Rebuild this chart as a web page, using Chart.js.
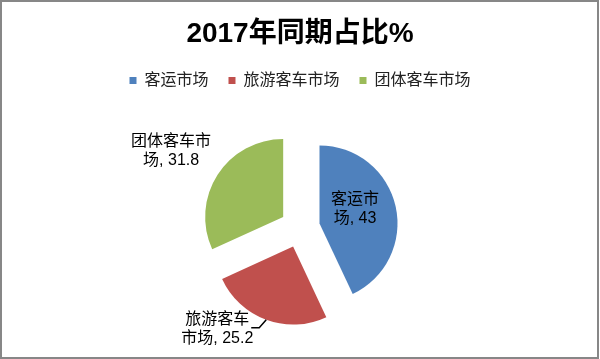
<!DOCTYPE html>
<html>
<head>
  <meta charset="utf-8" />
  <title>2017年同期占比%</title>
  <script src="https://cdn.jsdelivr.net/npm/chart.js"></script>
  <style>
    body {
      background: white;
      margin: 0;
    }
    canvas {
      display: block;
    }
  </style>
</head>
<body>

  <canvas id="shareChart" width="600" height="359"></canvas>

  <script>
    // data
    const categories = ['客运市场', '旅游客车市场', '团体客车市场'];
    const shares = [43, 25.2, 31.8];
    const chartTitle = '2017年同期占比%';

    const sliceColors = ['#4F81BD', '#C0504D', '#9BBB59'];
    const CJK = '"Liberation Sans", "Noto Sans CJK SC", sans-serif';
    const EXPLODE = 20;   // how far each slice is pulled out

    // label layout per slice: distance from centre, angle nudge (deg), where to wrap
    const labelLayout = [
      { r: 58, da: -6, wrap: 3 },
      { r: 131, da: 19, wrap: 4, leader: true },
      { r: 150, da: -2, wrap: 5 }
    ];

    // white background + grey frame like the Excel chart area
    const framePlugin = {
      id: 'frame',
      beforeDraw(chart) {
        const ctx = chart.ctx;
        ctx.save();
        ctx.fillStyle = '#fff';
        ctx.fillRect(0, 0, chart.width, chart.height);
        ctx.restore();
      },
      afterDraw(chart) {
        const ctx = chart.ctx;
        ctx.save();
        ctx.strokeStyle = '#878787';
        ctx.lineWidth = 2;
        ctx.strokeRect(1, 1, chart.width - 3, chart.height - 2);
        ctx.restore();
      }
    };

    // draw every slice pulled out along its bisector
    const explodePlugin = {
      id: 'explode',
      beforeDatasetDraw(chart, args) {
        const ctx = chart.ctx;
        args.meta.data.forEach(arc => {
          const mid = (arc.startAngle + arc.endAngle) / 2;
          ctx.save();
          ctx.translate(Math.cos(mid) * EXPLODE, Math.sin(mid) * EXPLODE);
          arc.draw(ctx);
          ctx.restore();
        });
        return false;
      }
    };

    const labelPlugin = {
      id: 'sliceLabels',
      afterDatasetsDraw(chart) {
        const ctx = chart.ctx;
        const meta = chart.getDatasetMeta(0);
        ctx.save();
        ctx.font = '16px ' + CJK;
        ctx.fillStyle = '#000';
        ctx.textAlign = 'center';
        ctx.textBaseline = 'middle';
        meta.data.forEach((arc, i) => {
          const lay = labelLayout[i];
          const mid = (arc.startAngle + arc.endAngle) / 2;
          const ang = mid + lay.da * Math.PI / 180;
          const lx = arc.x + Math.cos(ang) * lay.r;
          const ly = arc.y + Math.sin(ang) * lay.r;
          const full = categories[i] + ', ' + shares[i];
          const lines = [full.slice(0, lay.wrap), full.slice(lay.wrap)];
          const lh = 19;
          lines.forEach((t, k) => {
            ctx.fillText(t, lx, ly + (k - (lines.length - 1) / 2) * lh);
          });
          if (lay.leader) {
            const ex = arc.x + Math.cos(mid) * (EXPLODE + arc.outerRadius);
            const ey = arc.y + Math.sin(mid) * (EXPLODE + arc.outerRadius);
            ctx.beginPath();
            ctx.strokeStyle = '#000';
            ctx.lineWidth = 1.5;
            ctx.moveTo(ex, ey);
            ctx.lineTo(ex - 7, ey + 8);
            ctx.lineTo(ex - 15, ey + 8);
            ctx.stroke();
          }
        });
        ctx.restore();
      }
    };

    const ctx = document.getElementById('shareChart').getContext('2d');
    new Chart(ctx, {
      type: 'pie',
      data: {
        labels: categories,
        datasets: [{
          data: shares,
          backgroundColor: sliceColors,
          borderWidth: 0,
          radius: 78
        }]
      },
      options: {
        responsive: false,
        animation: false,
        devicePixelRatio: 1,
        layout: {
          padding: { top: 0, bottom: 2, left: 0, right: 0 }
        },
        plugins: {
          title: {
            display: true,
            text: chartTitle,
            color: '#000',
            font: { family: CJK, size: 28, weight: 'bold' },
            padding: { top: 17, bottom: 2 }
          },
          legend: {
            position: 'top',
            labels: {
              color: '#222',
              boxWidth: 7,
              boxHeight: 7,
              padding: 20,
              font: { family: CJK, size: 16 }
            }
          },
          tooltip: { enabled: false }
        }
      },
      plugins: [framePlugin, explodePlugin, labelPlugin]
    });
  </script>

</body>
</html>
